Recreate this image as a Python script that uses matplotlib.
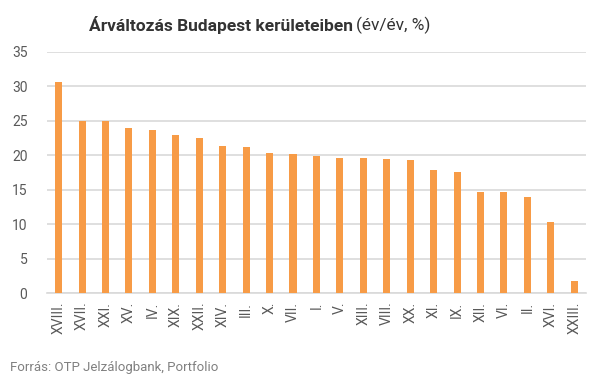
import matplotlib
matplotlib.use('Agg')

from matplotlib import pyplot

districts = ['XVIII.', 'XVII.', 'XXI.', 'XV.', 'IV.', 'XIX.', 'XXII.', 'XIV.',
             'III.', 'X.', 'VII.', 'I.', 'V.', 'XIII.', 'VIII.', 'XX.', 'XI.',
             'IX.', 'XII.', 'VI.', 'II.', 'XVI.', 'XXIII.']
change = [30.6, 24.9, 24.9, 23.9, 23.7, 22.9, 22.5, 21.3,
          21.2, 20.3, 20.2, 19.9, 19.6, 19.6, 19.5, 19.3, 17.9,
          17.6, 14.7, 14.7, 14.0, 10.3, 1.8]
yticks = [0, 5, 10, 15, 20, 25, 30, 35]

pyplot.rcParams['font.family'] = ['Roboto', 'DejaVu Sans']

fig = pyplot.figure()
fig.set_size_inches(6.01, 3.79)
fig.set_dpi(100)
ax = fig.add_axes([0.078, 0.226, 0.897, 0.638])

ax.bar(range(len(districts)), change, width=0.3, color='#F79B46', zorder=3)

ax.set_xlim(-0.5, len(districts) - 0.5)
ax.set_ylim(0, 35)
ax.set_yticks(yticks)
ax.set_xticks(range(len(districts)))
ax.set_xticklabels(districts, rotation=90)

for s in ['top', 'right', 'left']:
    ax.spines[s].set_visible(False)
ax.spines['bottom'].set_color('#D9D9D9')
ax.spines['bottom'].set_linewidth(1.2)
ax.grid(axis='y', color='#D9D9D9', linewidth=1.2, zorder=0)
ax.tick_params(axis='both', length=0, labelsize=10, colors='#595959')
ax.tick_params(axis='y', pad=14)
ax.tick_params(axis='x', pad=6)

# title: bold part + normal part, centred around x=260px
t1 = fig.text(0, 1 - 25/379, 'Árváltozás Budapest kerületeiben', fontsize=12.5,
              fontweight='bold', color='#333333', va='center', ha='left')
t2 = fig.text(0, 1 - 25/379, '(év/év, %)', fontsize=12.5,
              color='#333333', va='center', ha='left')
fig.canvas.draw()
w1 = t1.get_window_extent().width
w2 = t2.get_window_extent().width
x0 = 260 - (w1 + 3 + w2) / 2
t1.set_x(x0 / 601)
t2.set_x((x0 + w1 + 3) / 601)

fig.text(10/601, 1 - 368/379, 'Forrás: OTP Jelzálogbank, Portfolio', fontsize=9.5,
         color='#808080', va='center', ha='left')

pyplot.savefig('out.png', dpi=100)
